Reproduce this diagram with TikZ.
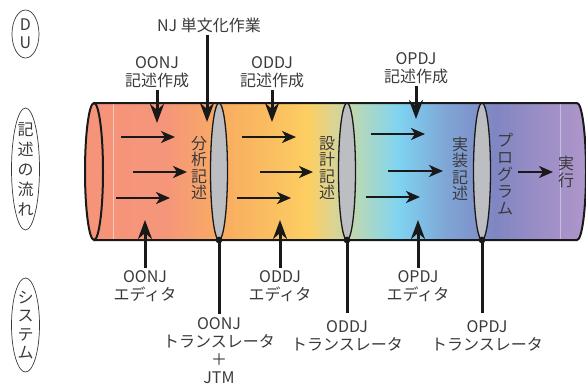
\documentclass[tikz,border=0pt]{standalone}
\usepackage{fontspec}
\setmainfont{Noto Sans CJK JP}
\usetikzlibrary{arrows.meta,shapes.geometric}
\definecolor{txt}{HTML}{3A3A3A}
\definecolor{lensgray}{HTML}{BDBEC2}
\definecolor{c0}{HTML}{F59478}
\definecolor{c1}{HTML}{F5957A}
\definecolor{c2}{HTML}{F8AE60}
\definecolor{c3}{HTML}{FABE60}
\definecolor{c4}{HTML}{FDCF62}
\definecolor{c5}{HTML}{DCD490}
\definecolor{c6}{HTML}{B3D8BC}
\definecolor{c7}{HTML}{7FD4F2}
\definecolor{c8}{HTML}{7FA6D6}
\definecolor{c9}{HTML}{7F86C2}
\definecolor{c10}{HTML}{9C8EC6}
\definecolor{c11}{HTML}{AE96CA}
\begin{document}
\begin{tikzpicture}[x=1pt,y=-1pt,
  lbl/.style={align=center, text=txt, font=\fontsize{16}{18.5}\selectfont, inner sep=0pt},
  vtxt/.style={align=center, text=txt, font=\fontsize{16}{16.5}\selectfont, inner sep=0pt},
  sidetxt/.style={align=center, text=txt, inner sep=0pt},
  sideell/.style={draw=txt, line width=0.7pt, ellipse, inner sep=0pt},
  varrow/.style={line width=3pt, draw=black!90, -{Stealth[length=19pt,width=14pt,inset=6pt]}},
  harrow/.style={line width=2.2pt, draw=black!90, -{Stealth[length=14pt,width=12pt,inset=4pt]}},
  stem/.style={line width=3pt, draw=black!90},
  lens/.style={fill=lensgray, draw=black!90, line width=1.3pt},
  outline/.style={draw=black!90, line width=2pt},
]
\useasboundingbox (0,0) rectangle (586,388);

% --- side ellipses
\node[sideell, minimum width=27pt, minimum height=48pt] (du) at (25.5,34) {};
\node[sidetxt, font=\fontsize{16}{18}\selectfont] (dut) at (du.center) {D\\U};
\node[sideell, minimum width=28pt, minimum height=122pt] (flow) at (25.5,169) {};
\node[sidetxt, font=\fontsize{16}{20}\selectfont] (flowt) at (flow.center) {記\\述\\の\\流\\れ};
\node[sideell, minimum width=28pt, minimum height=94pt] (sys) at (25.5,325) {};
\node[sidetxt, font=\fontsize{16}{18.5}\selectfont] (syst) at (sys.center) {シ\\ス\\テ\\ム};

% --- cylinder body gradient
\begin{scope}
\clip (94,103) -- (577,103) .. controls (582,103) and (586,133.7) .. (586,171.5)
      .. controls (586,209.3) and (582,240) .. (577,240) -- (94,240) -- cycle;
\foreach \xa/\ca/\xb/\cb in {94/c0/165/c1, 165/c1/225/c2, 225/c2/270/c3, 270/c3/308/c4,
  308/c4/332/c5, 332/c5/360/c6, 360/c6/398/c7, 398/c7/445/c8, 445/c8/495/c9,
  495/c9/540/c10, 540/c10/587/c11}
  \fill[left color=\ca, right color=\cb] (\xa,100) rectangle (\xb+0.6,245);
\draw[white, opacity=0.5, line width=0.8pt] (113,103) -- (113,240);
\draw[white, opacity=0.4, line width=0.8pt] (560,103) -- (560,240);
\end{scope}
\draw[outline] (94,103) -- (577,103) .. controls (582,103) and (586,133.7) .. (586,171.5)
      .. controls (586,209.3) and (582,240) .. (577,240) -- (94,240);
\draw[outline, fill=c0] (94,171.5) ellipse [x radius=9, y radius=68.5];

% --- lenses
\foreach \x/\n in {219/la, 347/lb, 482/lc} {
  \draw[lens] (\x,171.5) ellipse [x radius=8.5, y radius=68.5];
  \coordinate (\n) at (\x,240);
  \fill[black!90] (\n) circle (3.4);
}

% --- texts in the cylinder
\node[vtxt] (anl) at (199,168) {分\\析\\記\\述};
\node[vtxt] (des) at (327,168) {設\\計\\記\\述};
\node[vtxt] (imp) at (460,169) {実\\装\\記\\述};
\node[vtxt, font=\fontsize{16}{17}\selectfont] (prog) at (505,174) {プ\\ロ\\グ\\ラ\\ム};
\node[vtxt, font=\fontsize{16}{17}\selectfont] (exec) at (566,172) {実\\行};

% --- horizontal arrows
\foreach \i/\xa/\xb/\y in {1/121/175/137, 2/133/187/172, 3/116/170/198,
  4/242/296/137, 5/260/313/172, 6/237/291/198,
  7/371/425/134, 8/388/443/171, 9/366/420/197, 10/518/553/172} {
  \coordinate (hs\i) at (\xa,\y);
  \coordinate (he\i) at (\xb,\y);
  \draw[harrow] (hs\i) -- (he\i);
}

% --- top labels and arrows
\node[lbl] (nj) at (209,25) {NJ 単文化作業};
\node[lbl] (t1) at (157,72) {OONJ\\記述作成};
\node[lbl] (t2) at (272,72) {ODDJ\\記述作成};
\node[lbl] (t3) at (416,68) {OPDJ\\記述作成};
\coordinate (njt) at (207,122);
\coordinate (t1t) at (157,123);
\coordinate (t2t) at (272,122);
\coordinate (t3t) at (416,119);
\draw[varrow] (njt |- nj.south) ++(0,2) -- (njt);
\draw[varrow] (t1.south) ++(0,2) -- (t1t);
\draw[varrow] (t2.south) ++(0,2) -- (t2t);
\draw[varrow] (t3.south) ++(0,2) -- (t3t);

% --- editor labels and arrows
\node[lbl] (e1) at (145,286) {OONJ\\エディタ};
\node[lbl] (e2) at (280,286) {ODDJ\\エディタ};
\node[lbl] (e3) at (418,286) {OPDJ\\エディタ};
\coordinate (e1t) at (145,220);
\coordinate (e2t) at (280,220);
\coordinate (e3t) at (418,220);
\draw[varrow] (e1.north) ++(0,-2) -- (e1t);
\draw[varrow] (e2.north) ++(0,-2) -- (e2t);
\draw[varrow] (e3.north) ++(0,-2) -- (e3t);

% --- translators
\node[lbl, font=\fontsize{16}{18}\selectfont] (r1) at (219,351) {OONJ\\トランスレータ\\＋\\JTM};
\node[lbl] (r2) at (347,336) {ODDJ\\トランスレータ};
\node[lbl] (r3) at (487,336) {OPDJ\\トランスレータ};
\coordinate (r1e) at (219,314);
\coordinate (r2e) at (347,313);
\coordinate (r3e) at (482,313);
\draw[stem] (la) -- (r1e);
\draw[stem] (lb) -- (r2e);
\draw[stem] (lc) -- (r3e);
\end{tikzpicture}
\end{document}
